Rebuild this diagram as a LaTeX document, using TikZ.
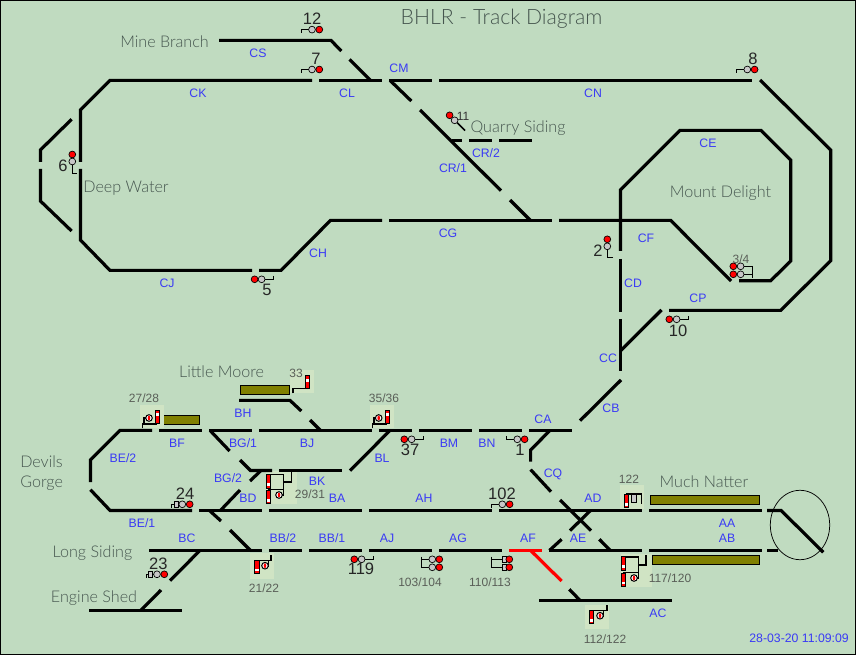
\documentclass[tikz,border=0pt]{standalone}
\usepackage{fontspec}
\setmainfont{Liberation Sans}
\newfontfamily\placefont{Lato}[UprightFont=* Light]
\definecolor{baize}{HTML}{C0DBC0}
\definecolor{panelcol}{HTML}{D0E4C4}
\definecolor{olive}{HTML}{808000}
\definecolor{blockblue}{HTML}{3A3AF5}
\definecolor{placegrey}{HTML}{46564F}
\definecolor{tinygrey}{HTML}{5A5F58}
\definecolor{lampgrey}{HTML}{C8C8C8}
\tikzset{
  track/.style={line width=2.4pt,line cap=butt,line join=miter,miter limit=2},
  live/.style={track,draw=red},
  bracket/.style={line width=0.75pt,line cap=butt},
  post/.style={line width=1.2pt,line cap=butt},
  block/.style={text=blockblue,font=\fontsize{9.2}{10}\selectfont,inner sep=0pt,text height=7.4pt,text depth=0pt},
  place/.style={text=placegrey,font=\placefont\fontsize{12.1}{14}\selectfont,inner sep=0pt,text height=10.2pt,text depth=0pt},
  bignum/.style={text=black!85,font=\fontsize{12.4}{13}\selectfont,inner sep=0pt,text height=8.9pt,text depth=0pt},
  small/.style={text=tinygrey,font=\fontsize{9}{10}\selectfont,inner sep=0pt,text height=7.4pt,text depth=0pt},
  platform/.style={fill=olive,draw=black,line width=0.75pt},
  panel/.style={fill=panelcol,draw=none},
}
% colour-light head, position light head, shunt box and semaphore pieces
\newcommand{\lampR}[2]{\filldraw[fill=red,draw=black,line width=0.5pt] (#1,#2) circle[radius=3.4];}
\newcommand{\lampG}[2]{\filldraw[fill=lampgrey,draw=black,line width=0.5pt] (#1,#2) circle[radius=3.4];}
\newcommand{\shuntbox}[2]{\filldraw[fill=lampgrey,draw=black,line width=0.5pt] (#1-2,#2-3) rectangle (#1+2,#2+3);}
% bar: left x, top y, white stripe offset
\newcommand{\semaphore}[3]{%
  \filldraw[fill=red,draw=black,line width=0.75pt] (#1,#2) rectangle (#1+4.5,#2+13.5);
  \fill[white] (#1+0.6,#2+#3) rectangle (#1+3.9,#2+#3+2.8);}
\newcommand{\disc}[2]{%
  \filldraw[fill=white,draw=black,line width=0.75pt] (#1,#2) circle[radius=3.3];
  \fill[red] (#1,#2) ellipse[x radius=1.3,y radius=2.4];}
\begin{document}
\begin{tikzpicture}[x=0.75pt,y=-0.75pt]
\useasboundingbox (0,0) rectangle (856,655);
\fill[baize] (0,0) rectangle (856,655);
\draw[black,line width=1.1pt] (0.7,0.7) rectangle (855.3,654.3);

% turntable
\draw[black,line width=0.55pt] (800,525) ellipse[x radius=29.7,y radius=34.7];

% platforms
\path[platform] (240.3,385.3) rectangle (289.7,394.3);
\path[platform] (163.7,415.3) rectangle (199.3,424.3);
\path[platform] (650.3,495.3) rectangle (759.3,504.3);
\path[platform] (652,555.3) rectangle (759.3,564.3);

% pale panels behind the semaphore signals
\fill[panel] (290,370) rectangle (314,393.3);
\fill[panel] (140,405) rectangle (164,428.3);
\fill[panel] (370,405) rectangle (394,428.3);
\fill[panel] (250,553.3) rectangle (274,579);
\fill[panel] (585.3,605.3) rectangle (609.3,629);
\fill[panel] (266,471) rectangle (297,504);
\fill[panel] (620.7,553.5) rectangle (651.7,586.7);
\fill[panel] (620.3,485.3) rectangle (644,508.7);

% northern loop and Mine Branch
\draw[track] (219,40.4) -- (331,40.4) -- (341.3,51);
\draw[track] (349.5,59.5) -- (370.5,80.4);
\draw[track] (80.4,162) -- (80.4,110) -- (110,80.4) -- (312,80.4);
\draw[track] (319,80.4) -- (382,80.4);
\draw[track] (389,80.4) -- (432,80.4);
\draw[track] (439,80.4) -- (752,80.4);
\draw[track] (390,80.4) -- (411.3,101);
\draw[track] (420,110) -- (501,190.7);
\draw[track] (510,200) -- (530.4,220.4);
\draw[track] (80.4,169) -- (80.4,240) -- (110,270.4) -- (252,270.4);
\draw[track] (259,270.4) -- (281,270.4) -- (330.5,220.4) -- (382,220.4);
\draw[track] (389,220.4) -- (552,220.4);
\draw[track] (559,220.4) -- (670.7,220.4) -- (731,281);
\draw[track] (739,280.7) -- (770.7,280.7) -- (790.7,261) -- (790.7,160) -- (761,130.4) -- (680,130.4) -- (620.4,190) -- (620.4,251);
\draw[track] (620.4,259) -- (620.4,312);
\draw[track] (669,310.4) -- (780.7,310.4) -- (830.7,260.7) -- (830.7,150) -- (760,80);
\draw[track] (71.6,119.3) -- (40.4,150) -- (40.4,162);
\draw[track] (40.4,169) -- (40.4,201) -- (71.6,231);
\draw[track] (451.7,140.4) -- (462,140.4);
\draw[track] (469,140.4) -- (492,140.4);
\draw[track] (499,140.4) -- (532,140.4);

% link between the loops
\draw[track] (620.4,319) -- (620.4,371.5);
\draw[track] (620.4,351) -- (661.5,310);
\draw[track] (621,380) -- (580,420.7);

% Little Moore and the upper running line
\draw[track] (239,400.4) -- (290,400.4) -- (301.3,411);
\draw[track] (310,420) -- (320.4,430.4);
\draw[track] (152,430.4) -- (120,430.4) -- (90.4,460) -- (90.4,482);
\draw[track] (159,430.4) -- (202,430.4);
\draw[track] (209,430.4) -- (252,430.4);
\draw[track] (259,430.4) -- (372,430.4);
\draw[track] (379,430.4) -- (412,430.4);
\draw[track] (419,430.4) -- (472,430.4);
\draw[track] (479,430.4) -- (522,430.4);
\draw[track] (529,430.4) -- (572,430.4);
\draw[track] (210,430.4) -- (229.6,451);
\draw[track] (240,460) -- (250.4,470.4) -- (272,470.4);
\draw[track] (279,470.4) -- (342,470.4);
\draw[track] (260.5,471) -- (250,481);
\draw[track] (240,490) -- (220.5,510.4);
\draw[track] (390,430.4) -- (350,470.7);
\draw[track] (550,430.4) -- (530.6,450) -- (530.6,461.7);
\draw[track] (530.6,469.6) -- (551,491.7);
\draw[track] (560,500) -- (591,530.6);
\draw[track] (590.6,510.4) -- (570,530.6);

% middle running line
\draw[track] (90.4,489.7) -- (110,510.4) -- (192,510.4);
\draw[track] (199,510.4) -- (262,510.4);
\draw[track] (269,510.4) -- (362,510.4);
\draw[track] (369,510.4) -- (492,510.4);
\draw[track] (499,510.4) -- (642,510.4);
\draw[track] (649,510.4) -- (762,510.4);
\draw[track] (767,510.4) -- (781,510.4) -- (823.3,552.3);

% lower running line, sidings and shed road
\draw[track] (149,550.4) -- (262,550.4);
\draw[track] (269,550.4) -- (302,550.4);
\draw[track] (309,550.4) -- (362,550.4);
\draw[track] (369,550.4) -- (432,550.4);
\draw[track] (439,550.4) -- (502,550.4);
\draw[live] (509,550.4) -- (542,550.4);
\draw[live] (530.6,550.4) -- (561.6,581);
\draw[track] (549,550.4) -- (642,550.4);
\draw[track] (649,550.4) -- (762,550.4);
\draw[track] (767,550.4) -- (778,550.4);
\draw[track] (210,511) -- (221,521);
\draw[track] (230,530) -- (250.4,550.4);
\draw[track] (549.5,550.4) -- (561.6,539.3);
\draw[track] (599.3,539.3) -- (610.3,550.4);
\draw[track] (539,600.4) -- (672,600.4);
\draw[track] (569.3,589.3) -- (580,600.4);
\draw[track] (200,550.4) -- (170,580.7);
\draw[track] (161,590) -- (140.7,610.4);
\draw[track] (89,610.4) -- (182,610.4);

% position-light signals, tail at the left
\draw[bracket] (301.5,33) -- (301.5,29.6) -- (309,29.6);
\lampG{312}{29.6}\lampR{319.3}{29.6}
\draw[bracket] (301.5,73) -- (301.5,69.5) -- (309,69.5);
\lampG{312}{69.5}\lampR{319.3}{69.5}
\draw[bracket] (736.5,73) -- (736.5,69.5) -- (744,69.5);
\lampG{747.3}{69.5}\lampR{754.6}{69.5}
\draw[bracket] (491.7,508) -- (491.7,504.3) -- (499,504.3);
\lampG{502.3}{504.3}\lampR{509.6}{504.3}
\draw[bracket] (506.3,436.5) -- (506.3,439.3) -- (514,439.3);
\lampG{517.3}{439.3}\lampR{524.6}{439.3}

% position-light signals, tail at the right
\draw[bracket] (273,276) -- (273,279.3) -- (264,279.3);
\lampR{254.6}{279.3}\lampG{261.6}{279.3}
\draw[bracket] (688.6,316.3) -- (688.6,319.3) -- (679,319.3);
\lampR{669.3}{319.3}\lampG{676.6}{319.3}
\draw[bracket] (373.6,556.3) -- (373.6,559.3) -- (364,559.3);
\lampR{354.3}{559.3}\lampG{361.6}{559.3}
\draw[bracket] (423.6,436.3) -- (423.6,439.3) -- (414,439.3);
\lampR{404.3}{439.3}\lampG{411.6}{439.3}

% vertical signals 6 and 2
\draw[bracket] (77,173.3) -- (72.3,173.3) -- (72.3,164);
\lampR{72.3}{154.5}\lampG{72.3}{161.5}
\draw[bracket] (613,258) -- (607.3,258) -- (607.3,249);
\lampR{607.3}{239.3}\lampG{607.3}{246.3}

% signal 11 on the diagonal
\draw[line width=1.1pt] (457,122.5) -- (465,130.5);
\lampR{449.6}{115.3}\lampG{454.6}{120.3}

% double signal 3/4
\draw[bracket] (743,266.3) -- (752.6,266.3) (743,274.3) -- (752.6,274.3) (752.6,266) -- (752.6,277.6);
\lampR{733.3}{266.3}\lampG{740.6}{266.3}
\lampR{733.3}{274.3}\lampG{740.6}{274.3}

% signals 24 and 23 with shunt box
\draw[bracket] (171.3,507.5) -- (171.3,504.3) -- (179,504.3);
\shuntbox{176}{504.3}\lampG{182.3}{504.3}\lampR{189.7}{504.3}
\draw[bracket] (146.3,577.5) -- (146.3,574.3) -- (154,574.3);
\shuntbox{150.6}{574.3}\lampG{157}{574.3}\lampR{164.3}{574.3}

% double signals 103/104 and 110/113
\draw[bracket] (421.3,556.7) -- (421.3,567.3) (421.3,559.3) -- (429,559.3) (421.3,567.3) -- (429,567.3);
\lampG{432.3}{559.3}\lampR{439.3}{559.3}
\lampG{432.3}{567.3}\lampR{439.3}{567.3}
\draw[bracket] (491.3,556.7) -- (491.3,567.3) (491.3,559.3) -- (502,559.3) (491.3,567.3) -- (502,567.3);
\shuntbox{504}{559.3}\lampR{509.3}{559.3}
\shuntbox{504}{567.3}\lampR{509.3}{567.3}

% semaphores
\draw[post] (292.7,393.3) -- (292.7,388.7) -- (307,388.7);
\semaphore{305.3}{375.3}{3.5}

\draw[post] (142.6,428.3) -- (142.6,423.8) -- (157,423.8) (143.8,423.8) -- (143.8,418) -- (147,418);
\semaphore{155.3}{410.3}{3}
\disc{149}{418}
\draw[post] (372.6,428.3) -- (372.6,423.8) -- (387,423.8) (373.8,423.8) -- (373.8,418) -- (377,418);
\semaphore{385.3}{410.3}{3}
\disc{378.7}{418}

\draw[post] (271,555) -- (271,560.6) -- (257,560.6) (268.3,560.6) -- (268.3,565.7) -- (266,565.7);
\semaphore{254.7}{560}{8.5}
\disc{265}{565.7}
\draw[post] (606.7,605.3) -- (606.7,610.6) -- (592,610.6) (603.5,610.6) -- (603.5,615.7) -- (601,615.7);
\semaphore{589.3}{610.3}{8.5}
\disc{600}{615.7}

\draw[post] (268,474.3) -- (283.3,474.3) -- (283.3,495) -- (280,495) (283.3,489.5) -- (268,489.5) (283.3,481.7) -- (291.3,481.7) -- (291.3,471);
\semaphore{266.3}{474.5}{8.5}
\semaphore{266.3}{490.3}{8.5}
\disc{279}{495}
\draw[post] (623,556.7) -- (638.3,556.7) -- (638.3,578) -- (635,578) (638.3,572.5) -- (623,572.5) (638.3,565) -- (646,565) -- (646,555);
\semaphore{621.3}{556.9}{8.5}
\semaphore{621.3}{573}{8.5}
\disc{634}{578}

\draw[post] (626,494) -- (641.3,494) -- (641.3,504);
\filldraw[fill=lampgrey,draw=black,line width=0.75pt] (631.3,494) rectangle (636,502.3);
\semaphore{624}{494.3}{9}

% title and place names
\node[place,font=\placefont\fontsize{15.9}{17}\selectfont,text height=11.5pt] (title) at (501.5,17) {BHLR - Track Diagram};
\node[place] (minebranch) at (164.5,41) {Mine Branch};
\node[place] (deepwater) at (126,186) {Deep Water};
\node[place] (quarry) at (518,126) {Quarry Siding};
\node[place] (mount) at (720.5,191) {Mount Delight};
\node[place] (moore) at (221.5,371) {Little Moore};
\node[place,anchor=west] (devils) at (20,461) {Devils};
\node[place,anchor=west] (gorge) at (20,481) {Gorge};
\node[place] (longsiding) at (92.5,551) {Long Siding};
\node[place] (shed) at (94,596) {Engine Shed};
\node[place] (natter) at (704,481) {Much Natter};

% signal numbers
\node[bignum] (n12) at (312,19) {12};
\node[bignum] (n7) at (316,59) {7};
\node[bignum] (n8) at (753,59) {8};
\node[bignum] (n6) at (63,166) {6};
\node[bignum] (n5) at (267,290) {5};
\node[bignum] (n2) at (598,251) {2};
\node[bignum] (n10) at (678,331) {10};
\node[bignum] (n24) at (185,494) {24};
\node[bignum] (n23) at (158.3,564) {23};
\node[bignum] (n119) at (361,569) {119};
\node[bignum] (n37) at (410,450) {37};
\node[bignum] (n1) at (520,450) {1};
\node[bignum] (n102) at (502,494) {102};
\node[small,text=black!80] (n11) at (463,116) {11};
\node[small] (n34) at (741,259) {3/4};
\node[small] (n33) at (296,372.7) {33};
\node[small] (n2728) at (144,398) {27/28};
\node[small] (n3536) at (384,398) {35/36};
\node[small] (n2122) at (264,588) {21/22};
\node[small] (n2931) at (310,494) {29/31};
\node[small] (n122) at (629,478.3) {122};
\node[small] (n117) at (670,578) {117/120};
\node[small] (n112) at (605,638.3) {112/122};
\node[small] (n103) at (420,582) {103/104};
\node[small] (n110) at (490,582) {110/113};

% block labels
\node[block] (cs) at (258,53) {CS};
\node[block] (ck) at (198,93) {CK};
\node[block] (cl) at (347,93) {CL};
\node[block] (cm) at (399,68) {CM};
\node[block] (cn) at (593,93) {CN};
\node[block] (cr2) at (486,153) {CR/2};
\node[block] (cr1) at (453,168) {CR/1};
\node[block] (ce) at (708,143) {CE};
\node[block] (cf) at (646,238) {CF};
\node[block] (cg) at (448,233) {CG};
\node[block] (ch) at (318,253) {CH};
\node[block] (cj) at (167,283) {CJ};
\node[block] (cd) at (633,283) {CD};
\node[block] (cp) at (698,298) {CP};
\node[block] (cc) at (608,358) {CC};
\node[block] (cb) at (611,408) {CB};
\node[block] (ca) at (543,419) {CA};
\node[block] (bh) at (243,413) {BH};
\node[block] (bf) at (177,443) {BF};
\node[block] (bg1) at (243,443) {BG/1};
\node[block] (bj) at (307,443) {BJ};
\node[block] (bm) at (449,443) {BM};
\node[block] (bn) at (487,443) {BN};
\node[block] (be2) at (123,458) {BE/2};
\node[block] (bl) at (382,458) {BL};
\node[block] (bg2) at (228,478) {BG/2};
\node[block] (cq) at (553,473) {CQ};
\node[block] (bk) at (317,481) {BK};
\node[block] (bd) at (248,498) {BD};
\node[block] (ba) at (337,498) {BA};
\node[block] (ah) at (424,498) {AH};
\node[block] (ad) at (593,498) {AD};
\node[block] (be1) at (142,523) {BE/1};
\node[block] (aa) at (727,523) {AA};
\node[block] (bc) at (187,538) {BC};
\node[block] (bb2) at (283,538) {BB/2};
\node[block] (bb1) at (332,538) {BB/1};
\node[block] (aj) at (387,538) {AJ};
\node[block] (ag) at (458,538) {AG};
\node[block] (af) at (528,538) {AF};
\node[block] (ae) at (578,538) {AE};
\node[block] (ab) at (727,538) {AB};
\node[block] (ac) at (658,613) {AC};
\node[block,anchor=east] (stamp) at (849,638) {28-03-20 11:09:09};
\end{tikzpicture}
\end{document}
